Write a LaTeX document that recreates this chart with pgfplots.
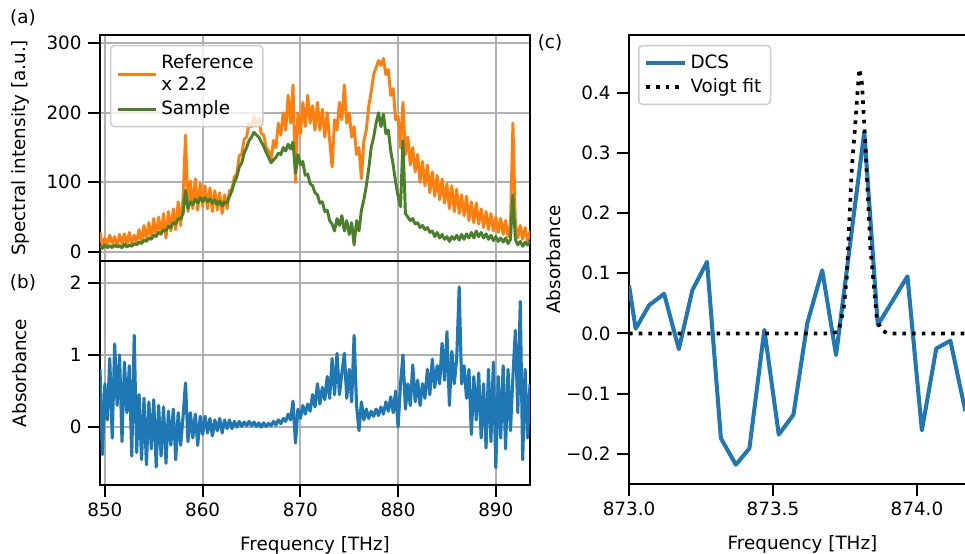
\documentclass[border=0pt]{standalone}
\usepackage{fontspec}
\setmainfont{DejaVu Sans}
\usepackage{pgfplots}
\usepackage{pgfplotstable}
\pgfplotsset{compat=1.18}

\definecolor{mplblue}{HTML}{1F77B4}
\definecolor{mplorange}{HTML}{FF7F0E}
\definecolor{sampgreen}{RGB}{74,128,42}
\definecolor{gridgray}{HTML}{B0B0B0}

% spectra (a) and (b): x [THz], reference x2.2, sample, absorbance
\pgfplotstableread{
x ref sam ab
849.50 28 8 0.80
849.75 8 5 -0.38
850.00 20 10 0.60
850.25 10 6 0.10
850.50 24 9 0.95
850.75 12 6 -0.15
851.00 22 10 1.15
851.25 9 7 0.30
851.50 25 9 1.00
851.75 12 6 -0.20
852.00 26 11 0.90
852.25 10 7 0.20
852.50 28 10 0.85
852.75 12 8 -0.40
853.00 24 12 1.27
853.25 14 10 -0.35
853.50 32 14 0.45
853.75 14 12 -0.45
854.00 38 17 0.40
854.25 18 15 -0.52
854.50 42 20 0.35
854.75 20 18 -0.30
855.00 48 24 0.38
855.25 22 22 -0.55
855.50 50 28 0.30
855.75 25 26 -0.40
856.00 55 32 0.28
856.25 20 30 -0.50
856.50 58 37 0.22
856.75 30 35 -0.25
857.00 62 42 0.25
857.25 32 40 -0.45
857.50 72 48 0.20
857.75 38 47 -0.25
858.00 78 55 0.15
858.25 168 88 0.61
858.50 58 62 -0.20
858.75 102 72 0.20
859.00 62 68 -0.15
859.25 105 76 0.18
859.50 60 70 -0.25
859.75 98 78 0.15
860.00 65 72 -0.10
860.25 95 78 0.15
860.50 62 72 -0.08
860.75 92 76 0.12
861.00 58 70 -0.12
861.25 88 75 0.10
861.50 60 68 -0.05
861.75 85 73 0.12
862.00 55 66 -0.08
862.25 82 72 0.10
862.50 62 70 -0.02
862.75 88 80 0.10
863.00 90 88 -0.02
863.25 108 100 0.08
863.50 112 108 0.00
863.75 138 122 0.08
864.00 140 128 0.01
864.25 162 142 0.07
864.50 165 150 0.02
864.75 185 160 0.08
865.00 180 165 0.02
865.25 195 172 0.07
865.50 182 168 0.01
865.75 192 165 0.06
866.00 170 158 0.00
866.25 168 152 0.06
866.50 150 143 0.01
866.75 145 136 0.05
867.00 132 128 0.02
867.25 160 132 0.08
867.50 150 136 0.03
867.75 185 142 0.10
868.00 168 140 0.05
868.25 200 150 0.12
868.50 175 145 0.08
868.75 225 155 0.18
869.00 185 148 0.10
869.25 240 158 0.36
869.50 100 113 -0.22
869.75 200 140 0.25
870.00 170 125 0.12
870.25 215 130 0.30
870.50 180 110 0.18
870.75 225 112 0.32
871.00 185 98 0.22
871.25 210 95 0.45
871.50 175 85 0.28
871.75 215 82 0.60
872.00 175 70 0.32
872.25 205 72 0.55
872.50 165 58 0.38
872.75 200 60 0.70
873.00 160 45 0.40
873.25 122 40 0.95
873.50 190 30 0.45
873.75 175 48 1.02
874.00 215 38 0.45
874.25 190 52 0.75
874.50 240 30 1.02
874.75 185 45 0.40
875.00 200 25 0.80
875.25 165 42 0.35
875.50 180 10 1.27
875.75 140 45 0.30
876.00 150 30 -0.05
876.25 105 60 0.35
876.50 160 75 0.10
876.75 175 95 0.25
877.00 210 120 0.12
877.25 230 150 0.22
877.50 255 165 0.15
877.75 265 185 0.25
878.00 275 200 0.16
878.25 268 180 0.28
878.50 278 198 0.18
878.75 255 170 0.35
879.00 262 175 0.22
879.25 225 145 0.42
879.50 235 125 0.20
879.75 190 100 0.50
880.00 195 80 0.00
880.25 150 65 0.60
880.50 215 160 1.00
880.75 140 55 0.25
881.00 165 50 0.60
881.25 125 45 0.30
881.50 150 48 0.86
881.75 115 40 0.35
882.00 140 42 0.65
882.25 100 35 0.30
882.50 130 38 0.60
882.75 95 32 0.40
883.00 125 35 0.80
883.25 85 28 0.45
883.50 115 30 0.94
883.75 80 22 0.55
884.00 110 28 0.85
884.25 75 20 0.60
884.50 105 25 1.16
884.75 70 18 0.65
885.00 98 22 1.32
885.25 62 15 0.30
885.50 95 22 1.05
885.75 58 18 0.60
886.00 90 24 0.95
886.25 55 17 1.94
886.50 82 25 0.60
886.75 52 18 0.85
887.00 80 26 0.40
887.25 45 20 0.80
887.50 72 28 -0.10
887.75 42 20 0.70
888.00 70 30 0.10
888.25 40 22 0.75
888.50 62 28 -0.15
888.75 35 20 0.60
889.00 58 26 -0.29
889.25 32 18 0.80
889.50 55 24 -0.20
889.75 30 16 0.90
890.00 50 22 -0.56
890.25 28 15 0.70
890.50 48 20 -0.15
890.75 25 14 0.85
891.00 45 20 -0.30
891.25 22 12 0.80
891.50 40 18 -0.05
891.75 185 82 0.70
892.00 42 18 1.34
892.25 20 10 0.20
892.50 38 15 1.74
892.75 18 8 -0.45
893.00 35 14 0.80
893.25 15 10 -0.15
893.50 30 15 0.60
}\spec

\pgfplotsset{
  panel/.style={
    scale only axis, anchor=south west,
    axis line style={line width=1.1pt},
    tick style={black, line width=1.1pt},
    major tick length=6.5pt,
    tick align=outside, tick pos=left,
    /pgf/number format/assume math mode=true,
    legend cell align=left,
    legend style={draw=black!20, line width=0.8pt, rounded corners=2pt,
      fill=white, fill opacity=0.8, text opacity=1, draw opacity=1,
      cells={align=left}, inner sep=3pt},
    legend image code/.code={\draw[##1] (0pt,0pt) -- (21pt,0pt);},
    ylabel style={anchor=center},
    xlabel style={at={(axis description cs:0.5,0)}, anchor=center, yshift=-32.7pt},
  },
  lefthalf/.style={
    width=234.35pt, xmin=849.5, xmax=893.5,
    xtick={850,860,870,880,890},
    grid=major, grid style={gridgray, line width=1.1pt},
    ylabel style={at={(axis description cs:-0.186,0.5)}},
  },
}

\begin{document}
\begin{tikzpicture}
\useasboundingbox (0,0) rectangle (525.9pt,301.9pt);

% (a) spectra
\begin{axis}[panel, lefthalf,
  at={(54.5pt,159.7pt)}, height=123.2pt,
  ymin=-13, ymax=312, ytick={0,100,200,300},
  xticklabels={},
  ylabel={Spectral intensity [a.u.]},
  legend style={at={(axis description cs:0.023,0.956)}, anchor=north west},
]
\addplot[mplorange, line width=1.6pt, line join=round] table[x=x, y=ref]{\spec};
\addlegendentry{Reference\\x 2.2}
\addplot[sampgreen, line width=1.6pt, line join=round] table[x=x, y=sam]{\spec};
\addlegendentry{Sample}
\end{axis}

% (b) absorbance
\begin{axis}[panel, lefthalf,
  at={(54.5pt,37.6pt)}, height=122.1pt,
  ymin=-0.8, ymax=2.3, ytick={0,1,2},
  ylabel={Absorbance},
  xlabel={Frequency [THz]},
]
\addplot[mplblue, line width=1.7pt, line join=round] table[x=x, y=ab]{\spec};
\end{axis}

% (c) zoom on one line
\begin{axis}[panel,
  at={(342.8pt,38.15pt)}, width=189.1pt, height=244.7pt,
  xmin=873.0, xmax=874.205, ymin=-0.25, ymax=0.496,
  xtick={873.0,873.5,874.0}, xticklabels={873.0,873.5,874.0},
  ytick={-0.2,-0.1,0,0.1,0.2,0.3,0.4},
  yticklabels={−0.2,−0.1,0.0,0.1,0.2,0.3,0.4},
  ylabel={Absorbance}, ylabel style={at={(axis description cs:-0.216,0.5)}},
  xlabel={Frequency [THz]},
  legend style={at={(axis description cs:0.026,0.978)}, anchor=north west},
]
\addplot[mplblue, line width=2.2pt, line join=round] coordinates {
(873.000,0.080) (873.023,0.008) (873.070,0.047) (873.122,0.066)
(873.173,-0.026) (873.220,0.072) (873.271,0.119) (873.319,-0.174)
(873.371,-0.218) (873.418,-0.191) (873.470,0.006) (873.520,-0.168)
(873.571,-0.135) (873.619,0.017) (873.671,0.105) (873.719,-0.036)
(873.817,0.335) (873.864,0.014) (873.967,0.095) (874.017,-0.161)
(874.067,-0.025) (874.116,-0.012) (874.168,-0.129)
};
\addlegendentry{DCS}
\addplot[black, line width=2pt, dash pattern=on 2pt off 3.3pt] coordinates {
(873.000,0) (873.700,0) (873.727,0.003) (873.745,0.040) (873.756,0.092)
(873.774,0.277) (873.785,0.343) (873.797,0.424) (873.800,0.440)
(873.809,0.415) (873.820,0.321) (873.838,0.144) (873.861,0.022)
(873.878,0.005) (873.900,0) (874.205,0)
};
\addlegendentry{Voigt fit}
\end{axis}

\node at (12.5pt,292.1pt) {(a)};
\node at (12.5pt,147.7pt) {(b)};
\node at (299.75pt,278.5pt) {(c)};
\end{tikzpicture}
\end{document}
